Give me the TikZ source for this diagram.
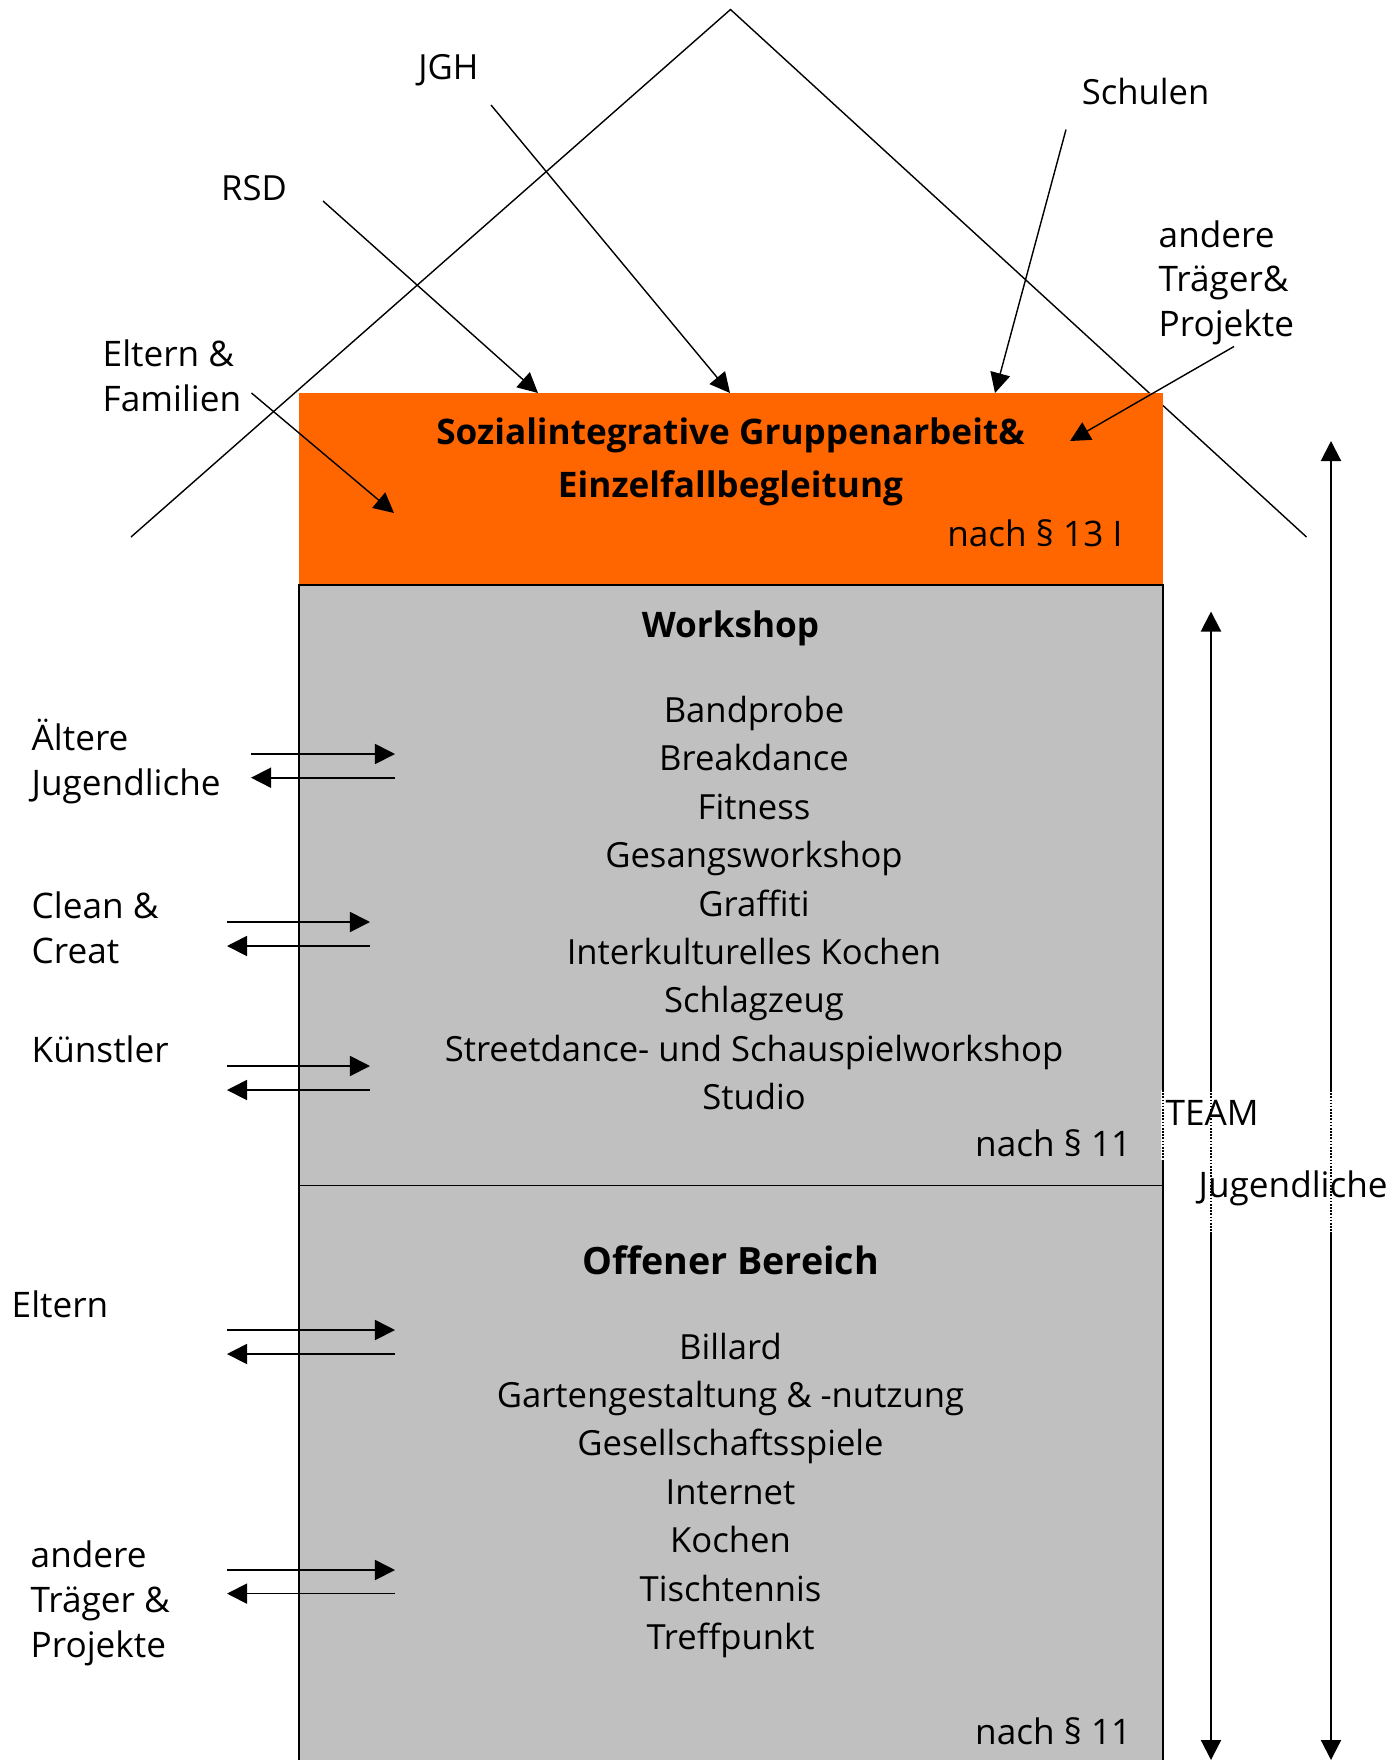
\documentclass[tikz,border=0pt]{standalone}
\usepackage{fontspec}
\setmainfont{Open Sans}
\usetikzlibrary{arrows.meta,positioning}
\definecolor{boxorange}{HTML}{FF6600}
\definecolor{boxgray}{HTML}{C0C0C0}

\begin{document}
\begin{tikzpicture}[x=0.01cm,y=-0.01cm,>={Triangle[length=0.2cm,width=0.2cm]},
	every node/.style={inner sep=0pt,font=\fontsize{10}{12.7}\selectfont},
	lbl/.style={anchor=base west,align=left},
	item/.style={anchor=base,font=\fontsize{9.85}{12.7}\selectfont},
	head/.style={anchor=base,align=center,font=\bfseries\fontsize{10}{15}\selectfont},
	para/.style={anchor=base east},
	gap/.style={white,line width=1.2pt},
	dots/.style={dash pattern=on 0.45pt off 0.45pt}]
		\useasboundingbox (0,0) rectangle (1387,1760);
		% Dach
		\coordinate (roof_l) at (131,537);
		\coordinate (roof_top) at (730.5,9.5);
		\coordinate (roof_r) at (1306.5,537);
		\draw (roof_l) -- (roof_top) -- (roof_r);
		% Kaesten
		\fill[boxorange] (299,393) rectangle (1163,585);
		\draw[fill=boxgray,line width=0.55pt] (299,585) rectangle (1163,1185.5);
		\draw[fill=boxgray,line width=0.55pt] (299,1185.5) rectangle (1163,1780);
		% Kopf (base = letzte Zeile)
		\node[head] (sga) at (730.5,497) {Sozialintegrative Gruppenarbeit\&\\Einzelfallbegleitung};
		\node[para] (p13) at (1123,546) {nach § 13 I};
		% Workshop
		\node[head] (ws) at (730.5,637) {Workshop};
		\foreach \t [count=\i] in {Bandprobe,Breakdance,Fitness,Gesangsworkshop,Graffiti,Interkulturelles Kochen,Schlagzeug,Streetdance- und Schauspielworkshop,Studio}
			\node[item] (ws\i) at (754,{722.5+48.4*(\i-1)}) {\t};
		\node[para] (p11a) at (1132,1156) {nach § 11};
		% Offener Bereich
		\node[head,font=\bfseries\fontsize{10.7}{15}\selectfont] (ob) at (730.5,1274) {Offener Bereich};
		\foreach \t [count=\i] in {Billard,Gartengestaltung \& -nutzung,Gesellschaftsspiele,Internet,Kochen,Tischtennis,Treffpunkt}
			\node[item] (ob\i) at (730.5,{1359+48.4*(\i-1)}) {\t};
		\node[para] (p11b) at (1132,1744) {nach § 11};
		% Partner oben
		\node[item] (jgh) at (448.5,79.5) {JGH};
		\node[item] (rsd) at (254,200) {RSD};
		\node[item] (schulen) at (1145.5,104.3) {Schulen};
		\node[lbl] (andere_o) at (1158,336.5) {andere\\Träger\&\\Projekte};
		\node[lbl] (eltfam) at (102,411.5) {Eltern \&\\Familien};
		\coordinate (jgh_s) at (491,105);
		\coordinate (jgh_e) at (730,393);
		\coordinate (rsd_s) at (323,201);
		\coordinate (rsd_e) at (538,393);
		\coordinate (schulen_s) at (1066,129.5);
		\coordinate (schulen_e) at (995,393);
		\coordinate (andere_s) at (1234,346.5);
		\coordinate (andere_e) at (1070,441);
		\coordinate (eltfam_s) at (251.5,393);
		\coordinate (eltfam_e) at (394,513);
		\foreach \n in {jgh,rsd,schulen,andere,eltfam}
			\draw[->] (\n_s) -- (\n_e);
		% Partner links
		\node[lbl] (aelt) at (31,795.5) {Ältere\\Jugendliche};
		\node[lbl] (clean) at (31,963.5) {Clean \&\\Creat};
		\node[lbl] (kuen) at (31,1062.5) {Künstler};
		\node[lbl] (eltern) at (11,1317.5) {Eltern};
		\node[lbl] (andere_u) at (30,1657) {andere\\Träger \&\\Projekte};
		\foreach \n/\xa/\xb/\ya/\yb in {aelt/251/395/754/777.7,clean/227/370/922/946,kuen/227/370/1066/1090,eltern/227/395/1330/1354,andere_u/227/395/1570/1593.6}{
			\coordinate (\n_l1) at (\xa,\ya);
			\coordinate (\n_r1) at (\xb,\ya);
			\coordinate (\n_l2) at (\xa,\yb);
			\coordinate (\n_r2) at (\xb,\yb);
			\draw[->,line width=0.5pt] (\n_l1) -- (\n_r1);
			\draw[->,line width=0.5pt] (\n_r2) -- (\n_l2);
		}
		% TEAM und Jugendliche
		\coordinate (team_t) at (1211,611.5);
		\coordinate (team_b) at (1211,1760);
		\coordinate (jug_t) at (1331,441);
		\coordinate (jug_b) at (1331,1760);
		\draw[<->,line width=0.6pt] (team_b) -- (team_t);
		\draw[<->,line width=0.6pt] (jug_b) -- (jug_t);
		\draw[gap] (1163,1090) -- (1163,1160);
		\draw[gap] (1211,1090) -- (1211,1233);
		\draw[gap] (1331,1090) -- (1331,1233);
		\draw[dots] (1163,1090) -- (1163,1160);
		\draw[dots] (1211,1090) -- (1211,1233);
		\draw[dots] (1331,1090) -- (1331,1233);
		\node[lbl] (team) at (1165,1125) {TEAM};
		\node[lbl] (jug) at (1198,1197) {Jugendliche};
	\end{tikzpicture}
\end{document}
